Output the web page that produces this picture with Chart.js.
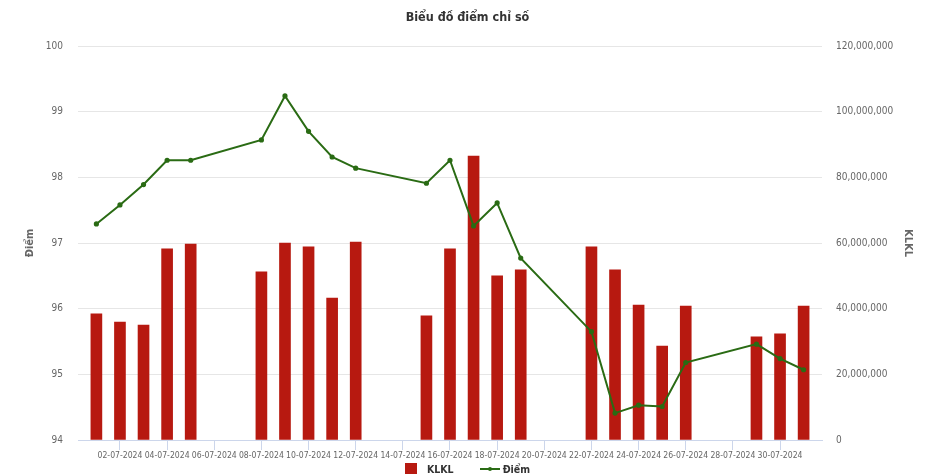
<!DOCTYPE html>
<html>
<head>
<meta charset="utf-8">
<script src="https://cdn.jsdelivr.net/npm/chart.js@4.4.1/dist/chart.umd.min.js"></script>
<style>
  html, body { margin: 0; padding: 0; background: #fff; overflow: hidden; }
  #wrap { position: relative; width: 935px; height: 474px; overflow: hidden; }
  #c { position: absolute; left: 0; top: 0; }
  #legend { position: absolute; left: 0; top: 462px; width: 935px; display: flex; justify-content: center; align-items: center;
            font-family: 'Liberation Sans Narrow', 'DejaVu Sans Condensed', sans-serif; font-weight: bold; font-size: 10.5px; color: #333; line-height: 14px; }
  .item { display: flex; align-items: center; }
  .box { width: 12px; height: 12px; margin-right: 10px; }
  .ln { width: 20px; height: 12px; margin-right: 3px; }
</style>
</head>
<body>
<div id="wrap">
  <canvas id="c" width="935" height="464"></canvas>
  <div id="legend"></div>
</div>
<script>
const FONT = "'Liberation Sans Narrow', 'DejaVu Sans Condensed', sans-serif";

const dates = ['01-07-2024','02-07-2024','03-07-2024','04-07-2024','05-07-2024',
               '08-07-2024','09-07-2024','10-07-2024','11-07-2024','12-07-2024',
               '15-07-2024','16-07-2024','17-07-2024','18-07-2024','19-07-2024',
               '22-07-2024','23-07-2024','24-07-2024','25-07-2024','26-07-2024',
               '29-07-2024','30-07-2024','31-07-2024'];
const volume = [38.4e6,35.9e6,35.0e6,58.2e6,59.7e6,
                51.2e6,60.0e6,58.8e6,43.2e6,60.3e6,
                37.8e6,58.2e6,86.5e6,50.0e6,51.8e6,
                58.8e6,51.8e6,41.1e6,28.6e6,40.8e6,
                31.4e6,32.3e6,40.8e6];
const points = [97.29,97.58,97.89,98.26,98.26,
                98.57,99.24,98.70,98.31,98.14,
                97.91,98.26,97.26,97.61,96.77,
                95.65,94.41,94.53,94.51,95.18,
                95.46,95.24,95.07];
const tickLabels = ['02-07-2024','04-07-2024','06-07-2024','08-07-2024','10-07-2024','12-07-2024',
                    '14-07-2024','16-07-2024','18-07-2024','20-07-2024','22-07-2024','24-07-2024',
                    '26-07-2024','28-07-2024','30-07-2024'];
const leftTicks = [94, 95, 96, 97, 98, 99, 100];
const rightTicks = [0, 20e6, 40e6, 60e6, 80e6, 100e6, 120e6];

const seriesNames = ['KLKL', 'Điểm'];
const barColor = '#b71910';
const lineColor = '#2a6b14';

const dayOf = s => parseInt(s.slice(0, 2), 10);

const chart = new Chart(document.getElementById('c'), {
  data: {
    datasets: [
      {
        type: 'line',
        label: seriesNames[1],
        data: dates.map((d, i) => ({ x: dayOf(d), y: points[i] })),
        yAxisID: 'yL',
        borderColor: lineColor,
        backgroundColor: lineColor,
        borderWidth: 2,
        pointRadius: 1.6,
        pointHoverRadius: 1.6,
        tension: 0,
        order: 0
      },
      {
        type: 'bar',
        label: seriesNames[0],
        data: dates.map((d, i) => ({ x: dayOf(d), y: volume[i] })),
        yAxisID: 'yR',
        backgroundColor: barColor,
        barThickness: 11,
        order: 1
      }
    ]
  },
  options: {
    responsive: false,
    animation: false,
    layout: { padding: 0 },
    plugins: {
      legend: { display: false },
      tooltip: { enabled: false },
      title: {
        display: true,
        text: 'Biểu đồ điểm chỉ số',
        color: '#333',
        font: { family: FONT, size: 12.5, weight: 'bold' },
        padding: { top: 10, bottom: 21 }
      }
    },
    scales: {
      x: {
        type: 'linear',
        offset: false,
        min: 0.22,
        max: 31.78,
        afterBuildTicks: s => { s.ticks = tickLabels.map(t => ({ value: dayOf(t) })); },
        afterFit: s => { s.height = 24; },
        ticks: {
          autoSkip: false,
          maxRotation: 0,
          padding: 1,
          color: '#666',
          font: { family: FONT, size: 8.6 },
          callback: v => { const t = tickLabels.find(l => dayOf(l) === v); return t || ''; }
        },
        grid: { offset: false, drawOnChartArea: false, drawTicks: true, tickLength: 10, color: '#ccd6eb' },
        border: { color: '#ccd6eb' }
      },
      yL: {
        position: 'left',
        min: leftTicks[0],
        max: leftTicks[leftTicks.length - 1],
        afterBuildTicks: s => { s.ticks = leftTicks.map(v => ({ value: v })); },
        afterFit: s => { s.width = 78; },
        ticks: { padding: 15, color: '#666', font: { family: FONT, size: 10 } },
        grid: { color: '#e6e6e6', drawTicks: false },
        border: { display: false },
        title: {
          display: true, text: 'Điểm', color: '#666',
          font: { family: FONT, size: 11, weight: 'bold' },
          padding: { top: 24, bottom: 0 }
        }
      },
      yR: {
        position: 'right',
        min: rightTicks[0],
        max: rightTicks[rightTicks.length - 1],
        afterBuildTicks: s => { s.ticks = rightTicks.map(v => ({ value: v })); },
        afterFit: s => { s.width = 113; },
        ticks: { padding: 14, color: '#666', font: { family: FONT, size: 10 },
                 callback: v => v.toLocaleString('en-US') },
        grid: { drawOnChartArea: false, drawTicks: false },
        border: { display: false },
        title: {
          display: true, text: 'KLKL', color: '#666',
          font: { family: FONT, size: 11, weight: 'bold' },
          padding: { top: 21, bottom: 0 }
        }
      }
    }
  }
});

// HTML legend built from the chart's datasets
const legend = document.getElementById('legend');
[chart.data.datasets[1], chart.data.datasets[0]].forEach((ds, idx) => {
  const item = document.createElement('div');
  item.className = 'item';
  if (idx > 0) item.style.marginLeft = '26px';
  if (ds.type === 'bar') {
    const b = document.createElement('span');
    b.className = 'box';
    b.style.background = ds.backgroundColor;
    item.appendChild(b);
  } else {
    const cv = document.createElement('canvas');
    cv.width = 20; cv.height = 12; cv.className = 'ln';
    const g = cv.getContext('2d');
    g.strokeStyle = ds.borderColor; g.lineWidth = 2;
    g.beginPath(); g.moveTo(0, 6); g.lineTo(20, 6); g.stroke();
    g.fillStyle = ds.borderColor;
    g.beginPath(); g.arc(10, 6, 2, 0, Math.PI * 2); g.fill();
    item.appendChild(cv);
  }
  const t = document.createElement('span');
  t.textContent = ds.label;
  item.appendChild(t);
  legend.appendChild(item);
});
</script>
</body>
</html>
